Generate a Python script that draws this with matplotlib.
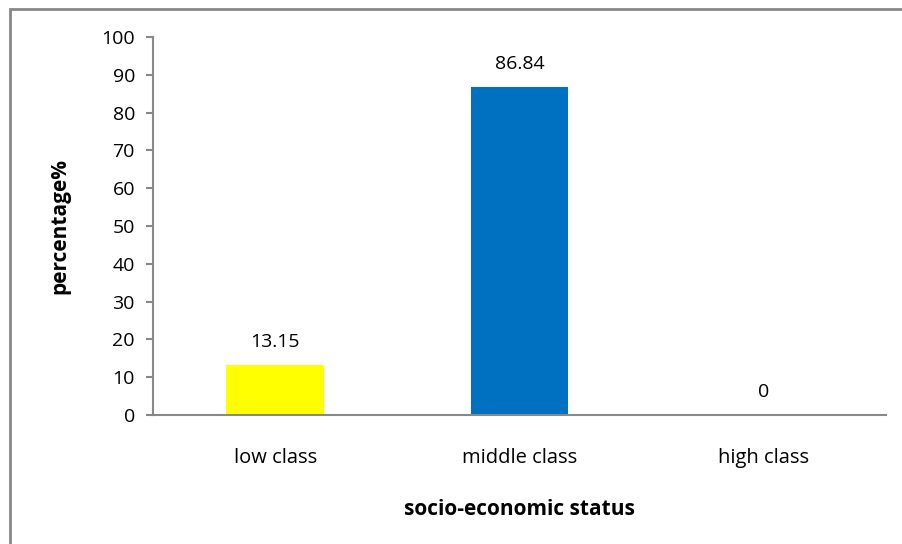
import matplotlib.pyplot as plt
from matplotlib.patches import Rectangle

categories = ["low class", "middle class", "high class"]
percentages = [13.15, 86.84, 0]
labels = ["13.15", "86.84", "0"]
colors = ["#FFFF00", "#0070C0", "#0070C0"]

plt.rcParams["font.family"] = ["Open Sans", "DejaVu Sans"]

fig = plt.figure(figsize=(9.03, 5.44), dpi=100)
ax = fig.add_axes([0.1694, 0.2371, 0.8118, 0.6949])

x = range(len(categories))
bars = ax.bar(x, percentages, width=0.4, color=colors)

for xi, val, lab in zip(x, percentages, labels):
    ax.annotate(lab, (xi, val), xytext=(0, 10), textcoords="offset points",
                ha="center", va="bottom", fontsize=14, color="black")

ax.set_xlim(-0.5, 2.5)
ax.set_ylim(0, 100)
ax.set_yticks(range(0, 101, 10))
ax.set_xticks(list(x))
ax.set_xticklabels(categories)

for side in ["top", "right"]:
    ax.spines[side].set_visible(False)
for side in ["left", "bottom"]:
    ax.spines[side].set_color("#888888")
    ax.spines[side].set_linewidth(1.5)

ax.tick_params(axis="y", length=5, width=1.5, color="#888888", labelsize=14, pad=8)
ax.tick_params(axis="x", length=0, labelsize=14.5, pad=24)

ax.set_xlabel("socio-economic status", fontsize=15, fontweight="bold", labelpad=22)
ax.set_ylabel("percentage%", fontsize=15, fontweight="bold", labelpad=22)

# outer frame around the chart area
fig.patches.append(Rectangle((10 / 903, -0.05), 1.1, 1 - 9 / 544 + 0.05,
                             transform=fig.transFigure, fill=False,
                             edgecolor="#888888", linewidth=2))

fig.savefig("out.png", dpi=100)
